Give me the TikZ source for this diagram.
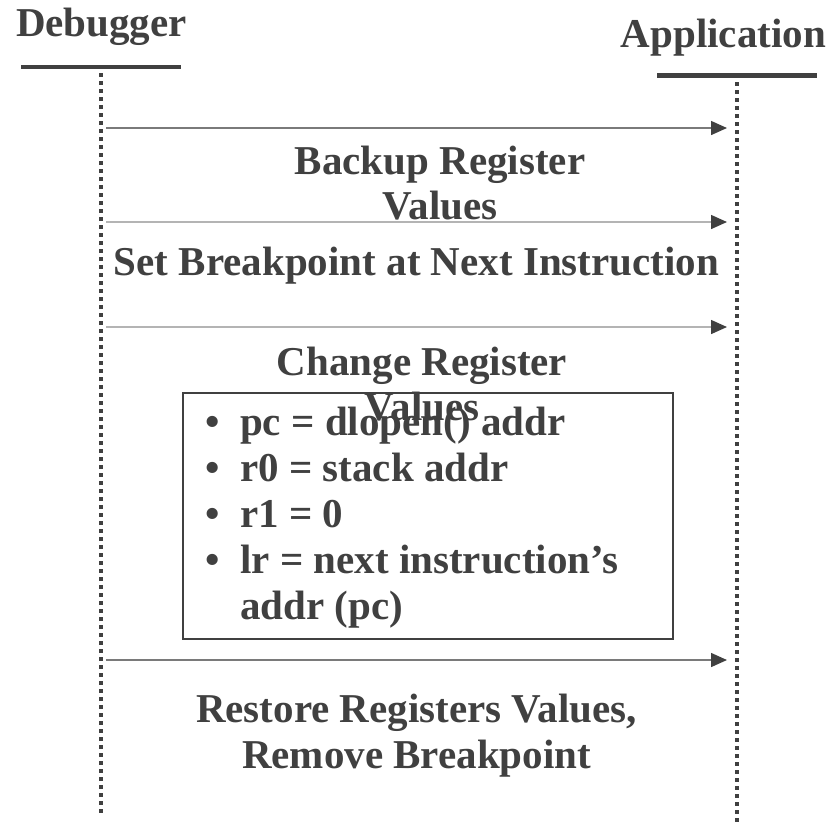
\documentclass[tikz,border=0pt]{standalone}
\usepackage{fontspec}
\setmainfont{Liberation Serif}
\usetikzlibrary{arrows.meta}
\definecolor{ink}{HTML}{404040}
\definecolor{msgdark}{HTML}{7A7A7A}
\definecolor{msglight}{HTML}{B4B4B4}
\tikzset{
  lbl/.style={font=\fontsize{41}{46}\selectfont\bfseries, text=ink, inner sep=0pt, anchor=base},
  headbar/.style={draw=ink, line width=4.5pt},
  lifeline/.style={draw=ink, line width=4pt, dash pattern=on 3.5pt off 4.5pt},
  msg/.style={line width=1.5pt, -{Triangle[length=16pt,width=14pt,color=ink]}},
  regbox/.style={draw=ink, line width=2.2pt}
}
\begin{document}
\begin{tikzpicture}[x=1pt,y=-1pt]
\useasboundingbox (0,0) rectangle (829,823);

% participants
\node[lbl] (dbg) at (101.5,36) {Debugger};
\node[lbl] (app) at (723.5,47) {Application};
\draw[headbar] (21,67) -- (181,67);
\draw[headbar] (657,75.5) -- (817,75.5);

% lifelines
\coordinate (dtop) at (101.3,73);
\coordinate (dbot) at (101.3,816);
\coordinate (atop) at (737,82);
\coordinate (abot) at (737,823);
\draw[lifeline] (dtop) -- (dbot);
\draw[lifeline] (atop) -- (abot);

% message end points
\foreach \i/\y in {1/128,2/222,3/327,4/660}{
  \coordinate (s\i) at (106,\y);
  \coordinate (t\i) at (727,\y);
}
\draw[msg, msgdark]  (s1) -- (t1);
\draw[msg, msglight] (s2) -- (t2);
\draw[msg, msglight] (s3) -- (t3);
\draw[msg, msgdark]  (s4) -- (t4);

% message labels (multi-line nodes sit on the baseline of their last line)
\node[lbl, align=center, font=\fontsize{41}{45}\selectfont\bfseries] (backup) at (440,219) {Backup Register\\Values};
\node[lbl] (setbp) at (416.5,275) {Set Breakpoint at Next Instruction};

% register changes
\draw[regbox] (183,393) rectangle (673,639);
\node[lbl, align=center, font=\fontsize{41}{45}\selectfont\bfseries] (change) at (422,420) {Change Register\\Values};
\node[lbl, anchor=base west, align=left] (regs) at (205,619)
  {\makebox[35pt][l]{•}pc = dlopen() addr\\
   \makebox[35pt][l]{•}r0 = stack addr\\
   \makebox[35pt][l]{•}r1 = 0\\
   \makebox[35pt][l]{•}lr = next instruction’s\\
   \hspace*{35pt}addr (pc)};

\node[lbl, align=center] (restore) at (416.5,768) {Restore Registers Values,\\Remove Breakpoint};
\end{tikzpicture}
\end{document}
